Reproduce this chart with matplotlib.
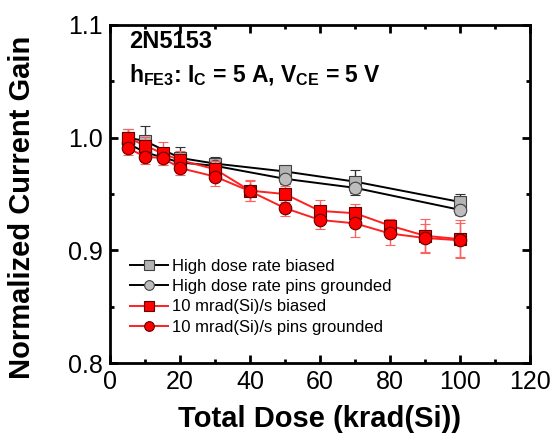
import matplotlib
matplotlib.use("Agg")
import matplotlib.pyplot as plt
from matplotlib.ticker import MultipleLocator
from matplotlib.lines import Line2D

plt.rcParams['font.family'] = ['Liberation Sans', 'DejaVu Sans']
plt.rcParams['mathtext.fontset'] = 'custom'
plt.rcParams['mathtext.rm'] = 'Liberation Sans'
plt.rcParams['mathtext.bf'] = 'Liberation Sans:bold'

# High dose rate data
x_hdr = [5, 10, 20, 30, 50, 70, 100]
hdr_biased = [1.000, 0.997, 0.982, 0.977, 0.970, 0.961, 0.943]
hdr_biased_err = [0.008, 0.013, 0.010, 0.006, 0.005, 0.010, 0.007]
hdr_grounded = [0.995, 0.987, 0.978, 0.975, 0.9635, 0.9555, 0.936]
hdr_grounded_err = [0.006, 0.008, 0.006, 0.005, 0.005, 0.006, 0.005]

# Low dose rate data
x_ldr = [5, 10, 15, 20, 30, 40, 50, 60, 70, 80, 90, 100]
ldr_biased = [1.000, 0.993, 0.986, 0.980, 0.972, 0.953, 0.950, 0.935, 0.933, 0.922, 0.913, 0.910]
ldr_biased_err = [0.008, 0.008, 0.010, 0.008, 0.007, 0.009, 0.007, 0.010, 0.008, 0.006, 0.015, 0.017]
ldr_grounded = [0.991, 0.983, 0.982, 0.973, 0.9655, 0.9525, 0.9375, 0.927, 0.924, 0.915, 0.911, 0.909]
ldr_grounded_err = [0.006, 0.006, 0.006, 0.006, 0.008, 0.009, 0.007, 0.008, 0.012, 0.010, 0.012, 0.015]

labels = ["High dose rate biased", "High dose rate pins grounded",
          "10 mrad(Si)/s biased", "10 mrad(Si)/s pins grounded"]

fig = plt.figure(figsize=(5.56, 4.44), dpi=100)
ax = fig.add_axes([0.198, 0.182, 0.755, 0.762])

ms = 9
styles = [
    dict(color='black', marker='s', mfc='#b4b4b4', mec='#404040', ecolor='#333333', z=3),
    dict(color='black', marker='o', mfc='#bdbdbd', mec='#404040', ecolor='#333333', z=3),
    dict(color='#ff2020', marker='s', mfc='#ff0000', mec='#600000', ecolor='#ff6060', z=4),
    dict(color='#ff2020', marker='o', mfc='#ff0000', mec='#600000', ecolor='#ff6060', z=4),
]
series = [(x_hdr, hdr_biased, hdr_biased_err), (x_hdr, hdr_grounded, hdr_grounded_err),
          (x_ldr, ldr_biased, ldr_biased_err), (x_ldr, ldr_grounded, ldr_grounded_err)]

handles = []
for (xs, ys, es), st, lab in zip(series, styles, labels):
    ax.errorbar(xs, ys, yerr=es, color=st['color'], lw=1.4, marker=st['marker'], ms=ms,
                mfc=st['mfc'], mec=st['mec'], mew=0.8, ecolor=st['ecolor'],
                elinewidth=1.0, capsize=3.5, zorder=st['z'])
    handles.append(Line2D([], [], color=st['color'], lw=1.4, marker=st['marker'], ms=7,
                          mfc=st['mfc'], mec=st['mec'], mew=0.8, label=lab))

ax.set_xlim(0, 120)
ax.set_ylim(0.8, 1.1)
ax.xaxis.set_major_locator(MultipleLocator(20))
ax.xaxis.set_minor_locator(MultipleLocator(10))
ax.yaxis.set_major_locator(MultipleLocator(0.1))
ax.yaxis.set_minor_locator(MultipleLocator(0.05))
ax.yaxis.set_major_formatter(plt.FuncFormatter(lambda v, p: f"{v:.1f}"))
ax.tick_params(which='both', direction='in', top=True, right=True, width=2)
ax.tick_params(which='major', length=6, labelsize=18, pad=5)
ax.tick_params(which='minor', length=3)
for s in ax.spines.values():
    s.set_linewidth(2)

ax.set_xlabel("Total Dose (krad(Si))", fontsize=21, fontweight='bold')
ax.xaxis.set_label_coords(0.5, -0.125)
ax.set_ylabel("Normalized Current Gain", fontsize=21, fontweight='bold', va='center')
ax.yaxis.set_label_coords(-0.21, 0.462)

ax.text(0.045, 0.931, "2N5153", transform=ax.transAxes, fontsize=17,
        fontweight='bold', va='baseline', ha='left')
ax.text(0.045, 0.832,
        r"$\mathbf{h_{FE3}}$: $\mathbf{I_C}$ = 5 A, $\mathbf{V_{CE}}$ = 5 V",
        transform=ax.transAxes, fontsize=16.5, fontweight='bold', va='baseline', ha='left')

ax.legend(handles=handles, loc='lower left', bbox_to_anchor=(0.047, 0.084), frameon=False,
          fontsize=12, handlelength=2.3, handletextpad=0.25, labelspacing=0.32,
          borderaxespad=0.0, borderpad=0.0)

fig.savefig("out.png", dpi=100)
